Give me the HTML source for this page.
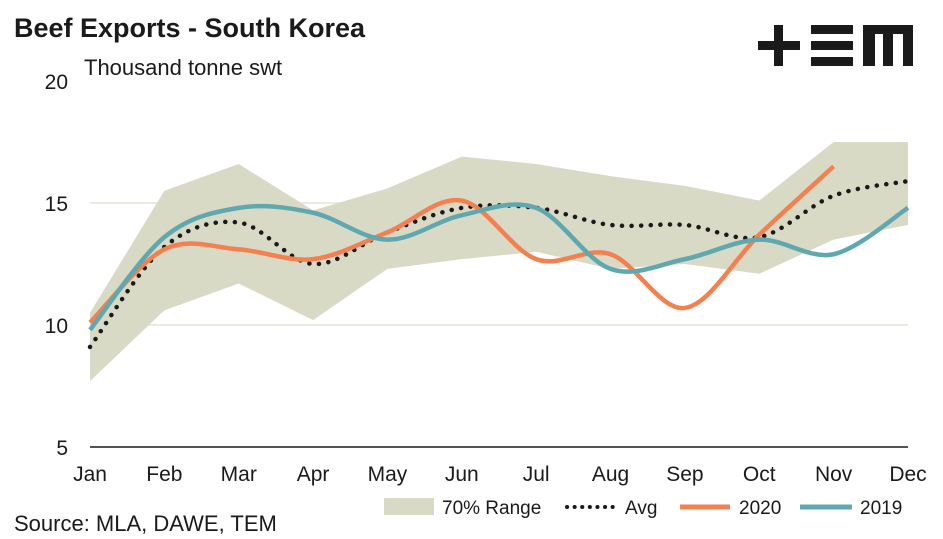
<!DOCTYPE html>
<html><head><meta charset="utf-8"><style>
body{margin:0;background:#fff;font-family:"Liberation Sans",sans-serif;}
svg{display:block}
</style></head><body>
<svg width="943" height="539" id="c">
<text x="14" y="37" font-size="27" font-weight="bold" fill="#1a1a1a">Beef Exports - South Korea</text>
<text x="84" y="75" font-size="22" fill="#1a1a1a">Thousand tonne swt</text>
<g fill="#1a1a1a">
<rect x="758" y="41" width="42" height="9"/><rect x="774" y="25" width="9" height="41"/>
<rect x="811" y="25" width="42" height="9"/><rect x="811" y="41" width="42" height="9"/><rect x="811" y="57" width="42" height="9"/>
<rect x="863" y="25" width="50" height="9"/><rect x="863" y="25" width="12" height="41"/><rect x="883" y="25" width="10" height="41"/><rect x="903" y="25" width="10" height="41"/>
</g>
<g id="grid"></g><g id="marks"></g><g id="axes"></g>
<g font-size="19" fill="#1a1a1a">
<rect x="384" y="498" width="50" height="17" fill="#d9dac6"/>
<text x="442" y="514">70% Range</text>
<line x1="567" y1="507" x2="617" y2="507" stroke="#1a1a1a" stroke-width="4" stroke-dasharray="0.1 7.5" stroke-linecap="round"/>
<text x="625" y="514">Avg</text>
<line x1="680" y1="507" x2="730" y2="507" stroke="#f4804f" stroke-width="5"/>
<text x="739" y="514">2020</text>
<line x1="800" y1="507" x2="852" y2="507" stroke="#5fa8b0" stroke-width="5"/>
<text x="860" y="514">2019</text>
</g>
<text x="14" y="531" font-size="22" fill="#1a1a1a">Source: MLA, DAWE, TEM</text>
</svg>
<script>
const months=["Jan","Feb","Mar","Apr","May","Jun","Jul","Aug","Sep","Oct","Nov","Dec"];
const yTicks=[5,10,15,20];
const rangeHigh=[10.5,15.5,16.6,14.7,15.6,16.9,16.6,16.1,15.7,15.1,17.5,17.5];
const rangeLow=[7.7,10.6,11.7,10.2,12.3,12.7,13.0,12.3,12.5,12.1,13.5,14.1];
const avg=[9.1,13.2,14.2,12.5,13.8,14.8,14.8,14.1,14.1,13.6,15.3,15.9];
const s2020=[10.1,13.1,13.1,12.7,13.8,15.1,12.7,12.9,10.7,13.7,16.5];
const s2019=[9.8,13.6,14.8,14.6,13.5,14.5,14.8,12.3,12.7,13.5,12.9,14.8];
const NS="http://www.w3.org/2000/svg";
const X=i=>90+i*(908-90)/11, Y=v=>447-(v-5)*24.4;
function mk(t,a,p){const e=document.createElementNS(NS,t);for(const k in a)e.setAttribute(k,a[k]);p.appendChild(e);return e;}
const grid=document.getElementById('grid'),marks=document.getElementById('marks'),axes=document.getElementById('axes');
yTicks.forEach(v=>{
 if(v>5&&v<20){const l=mk('line',{x1:90,x2:908,y1:Y(v),y2:Y(v),stroke:'#ebebdf','stroke-width':2},grid);
 
 }
 const t=mk('text',{x:68,y:Y(v)+8,'font-size':21,fill:'#1a1a1a','text-anchor':'end'},axes);t.textContent=v;
 
 
});
const ax=mk('line',{x1:90,x2:908,y1:447,y2:447,stroke:'#1a1a1a','stroke-width':1.5},axes);


months.forEach((m,i)=>{const t=mk('text',{x:X(i),y:481,'font-size':21,fill:'#1a1a1a','text-anchor':'middle'},axes);t.textContent=m;
 
 });
let d='M'+rangeHigh.map((v,i)=>X(i)+','+Y(v)).join('L');
for(let i=rangeLow.length-1;i>=0;i--)d+='L'+X(i)+','+Y(rangeLow[i]);
const area=mk('path',{d:d+'Z',fill:'#d9dac6'},marks);


function smooth(vals){const p=vals.map((v,i)=>[X(i),Y(v)]);let s='M'+p[0];
 for(let i=0;i<p.length-1;i++){const a=p[i-1]||p[i],b=p[i],c=p[i+1],e=p[i+2]||c;
  s+='C'+(b[0]+(c[0]-a[0])/6)+','+(b[1]+(c[1]-a[1])/6)+' '+(c[0]-(e[0]-b[0])/6)+','+(c[1]-(e[1]-b[1])/6)+' '+c[0]+','+c[1];}
 return s;}
const pa=mk('path',{d:smooth(avg),fill:'none',stroke:'#1a1a1a','stroke-width':4.5,'stroke-dasharray':'0.1 9.5','stroke-linecap':'round'},marks);


const p20=mk('path',{d:smooth(s2020),fill:'none',stroke:'#f4804f','stroke-width':4.5},marks);


const p19=mk('path',{d:smooth(s2019),fill:'none',stroke:'#5fa8b0','stroke-width':4.5},marks);


</script>
</body></html>
